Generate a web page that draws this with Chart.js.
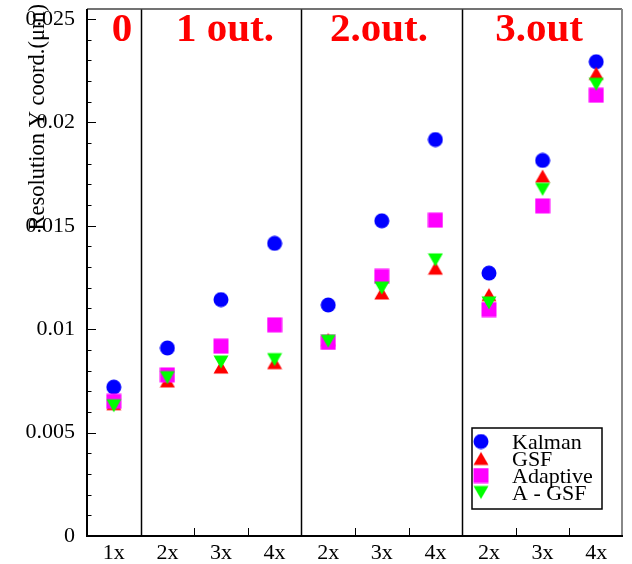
<!DOCTYPE html>
<html lang="en">
<head>
  <meta charset="UTF-8" />
  <title>Resolution Y coord.</title>
  <script src="https://cdn.jsdelivr.net/npm/chart.js"></script>
  <style>
    body {
      margin: 0;
      padding: 0;
      background: #fff;
    }

    .chart-box {
      position: relative;
      width: 632px;
      height: 564px;
    }
  </style>
</head>
<body>
  <div class="chart-box">
    <canvas id="resChart"></canvas>
  </div>

  <script>
    // number of hits (x) per outlier group
    const labels = ['1x', '2x', '3x', '4x', '2x', '3x', '4x', '2x', '3x', '4x'];
    const groupNames = ['0', '1 out.', '2.out.', '3.out'];
    const groupStarts = [0, 1, 4, 7];

    const kalman   = [0.00720, 0.00909, 0.01143, 0.01415, 0.01117, 0.01524, 0.01917, 0.01271, 0.01816, 0.02293];
    const gsf      = [0.00640, 0.00750, 0.00817, 0.00838, 0.00950, 0.01175, 0.01295, 0.01167, 0.01740, 0.02237];
    const adaptive = [0.00651, 0.00779, 0.00918, 0.01021, 0.00936, 0.01255, 0.01527, 0.01095, 0.01596, 0.02131];
    const agsf     = [0.00630, 0.00766, 0.00841, 0.00853, 0.00942, 0.01199, 0.01335, 0.01127, 0.01676, 0.02184];

    const yTicks = [0, 0.005, 0.01, 0.015, 0.02, 0.025];
    const yTickLabels = ['0', '0.005', '0.01', '0.015', '0.02', '0.025'];

    const serif = '"Liberation Serif", "Times New Roman", serif';

    // marker images, centred on their bounding box
    function makeMarker(shape, color) {
      const c = document.createElement('canvas');
      c.width = 16;
      c.height = 16;
      const g = c.getContext('2d');
      g.fillStyle = color;
      g.beginPath();
      if (shape === 'circle') {
        g.arc(8, 8, 7.5, 0, Math.PI * 2);
      } else if (shape === 'square') {
        g.rect(0.5, 0.5, 15, 15);
      } else if (shape === 'up') {
        g.moveTo(8, 1.5); g.lineTo(15.5, 14.5); g.lineTo(0.5, 14.5);
      } else {
        g.moveTo(8, 14.5); g.lineTo(15.5, 1.5); g.lineTo(0.5, 1.5);
      }
      g.closePath();
      g.fill();
      return c;
    }

    const series = [
      { label: 'Kalman',   data: kalman,   marker: makeMarker('circle', '#0000ff'), order: 4 },
      { label: 'GSF',      data: gsf,      marker: makeMarker('up', '#ff0000'),     order: 3 },
      { label: 'Adaptive', data: adaptive, marker: makeMarker('square', '#ff00ff'), order: 2 },
      { label: 'A - GSF',  data: agsf,     marker: makeMarker('down', '#00ff00'),   order: 1 }
    ];

    // frame, separators and inward ticks
    const framePlugin = {
      id: 'frame',
      beforeDatasetsDraw(chart) {
        const { ctx, chartArea: a, scales: { x, y } } = chart;
        const half = (x.getPixelForTick(1) - x.getPixelForTick(0)) / 2;
        ctx.save();
        ctx.strokeStyle = '#000';

        // minor + major y ticks
        ctx.lineWidth = 1;
        for (let k = 0; k <= 25; k++) {
          const py = Math.round(y.getPixelForValue(k * 0.001)) + 0.5;
          const len = k % 5 === 0 ? 9 : 4.5;
          ctx.beginPath();
          ctx.moveTo(a.left, py);
          ctx.lineTo(a.left + len, py);
          ctx.stroke();
        }

        // x ticks and group separators at category boundaries
        for (let i = 1; i < labels.length; i++) {
          const px = Math.round(x.getPixelForTick(i) - half) + 0.5;
          ctx.beginPath();
          if (groupStarts.includes(i)) {
            ctx.lineWidth = 1.5;
            ctx.moveTo(px, a.top);
            ctx.lineTo(px, a.bottom);
          } else {
            ctx.lineWidth = 1;
            ctx.moveTo(px, a.bottom);
            ctx.lineTo(px, a.bottom - 8);
          }
          ctx.stroke();
        }

        // top and right border
        ctx.lineWidth = 1.5;
        ctx.strokeStyle = '#444';
        ctx.beginPath();
        ctx.moveTo(a.left, a.top);
        ctx.lineTo(a.right - 1, a.top);
        ctx.stroke();
        ctx.strokeStyle = '#888';
        ctx.lineWidth = 2;
        ctx.beginPath();
        ctx.moveTo(a.right - 1, a.top);
        ctx.lineTo(a.right - 1, a.bottom);
        ctx.stroke();

        // axes
        ctx.strokeStyle = '#000';
        ctx.lineWidth = 2;
        ctx.beginPath();
        ctx.moveTo(a.left, a.top);
        ctx.lineTo(a.left, a.bottom);
        ctx.lineTo(a.right, a.bottom);
        ctx.stroke();
        ctx.restore();
      },
      afterDatasetsDraw(chart) {
        const { ctx } = chart;
        ctx.save();

        // group headings
        const headX = [122, 225, 379, 539];
        ctx.fillStyle = '#ff0000';
        ctx.font = 'bold 41px ' + serif;
        ctx.textAlign = 'center';
        ctx.textBaseline = 'alphabetic';
        groupNames.forEach((name, i) => ctx.fillText(name, headX[i], 41));

        // y axis title, flush with the top
        ctx.fillStyle = '#000';
        ctx.font = '22.5px ' + serif;
        ctx.translate(44, 4);
        ctx.rotate(-Math.PI / 2);
        ctx.textAlign = 'right';
        ctx.fillText('Resolution Y coord.(\u03bcm)', 0, 0);
        ctx.restore();

        // legend box
        ctx.save();
        ctx.fillStyle = '#fff';
        ctx.fillRect(472, 428, 130, 81);
        ctx.strokeStyle = '#000';
        ctx.lineWidth = 1.5;
        ctx.strokeRect(472, 428, 130, 81);
        ctx.font = '22px ' + serif;
        ctx.fillStyle = '#000';
        ctx.textBaseline = 'alphabetic';
        series.forEach((s, i) => {
          const cy = 441.5 + i * 17;
          ctx.drawImage(s.marker, 481 - 8, cy - 8);
          ctx.fillText(s.label, 512, cy + 7);
        });
        ctx.restore();
      }
    };

    new Chart(document.getElementById('resChart'), {
      type: 'line',
      data: {
        labels: labels,
        datasets: series.map(s => ({
          label: s.label,
          data: s.data,
          order: s.order,
          showLine: false,
          pointStyle: s.marker,
          pointRadius: 8,
          pointHoverRadius: 8
        }))
      },
      options: {
        responsive: true,
        maintainAspectRatio: false,
        animation: false,
        layout: { padding: { left: 0, right: 5, top: 6, bottom: 0 } },
        plugins: {
          legend: { display: false },
          tooltip: { enabled: false }
        },
        scales: {
          x: {
            type: 'category',
            offset: true,
            grid: { display: false, drawTicks: false },
            border: { display: false },
            ticks: {
              color: '#000',
              font: { family: serif, size: 22 },
              padding: 4,
              autoSkip: false,
              maxRotation: 0
            },
            afterFit: s => {
              s.height = 28;
              s.paddingLeft = 0;
              s.paddingRight = 0;
            }
          },
          y: {
            min: 0,
            max: 0.02548,
            grid: { display: false, drawTicks: false },
            border: { display: false },
            afterBuildTicks: s => { s.ticks = yTicks.map(v => ({ value: v })); },
            ticks: {
              color: '#000',
              font: { family: serif, size: 22 },
              padding: 12,
              callback: (v, i) => yTickLabels[i]
            },
            afterFit: s => {
              s.width = 87;
              s.paddingTop = 0;
              s.paddingBottom = 0;
            }
          }
        }
      },
      plugins: [framePlugin]
    });
  </script>
</body>
</html>
